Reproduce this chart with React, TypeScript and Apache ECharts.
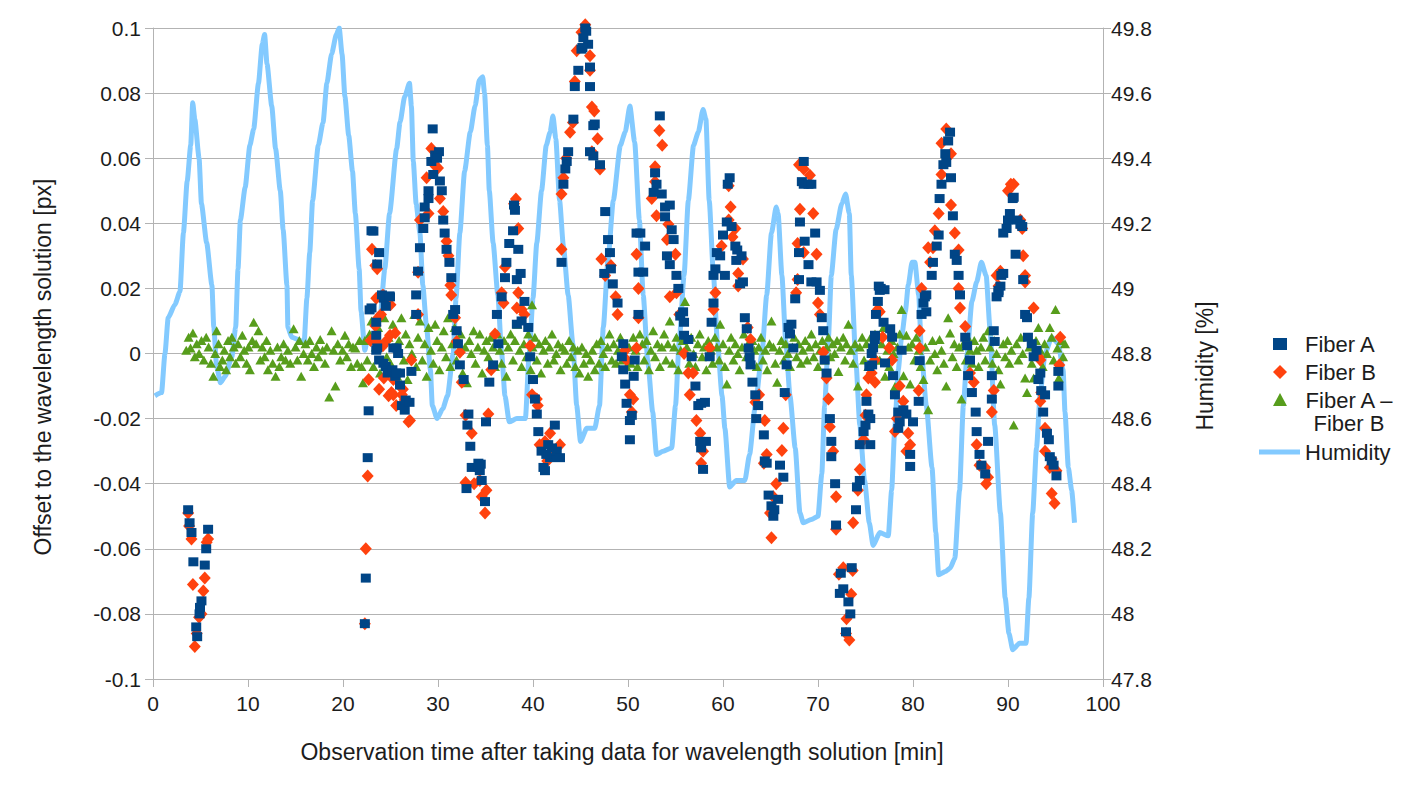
import React, { useEffect, useRef } from "react";
import * as echarts from "echarts";

// ---------- data ----------
const xTicks = [0, 10, 20, 30, 40, 50, 60, 70, 80, 90, 100];

const fiberA: number[][] = [
  [3.7,-0.048],[3.85,-0.052],[4.05,-0.055],[4.25,-0.064],[4.55,-0.084],[4.65,-0.087],[4.9,-0.080],[4.95,-0.078],[5.1,-0.076],[5.45,-0.065],[5.6,-0.060],[5.8,-0.054],
  [22.3,-0.083],[22.4,-0.069],[22.6,-0.032],[22.7,-0.0176],[23.0,0.0377],[23.2,0.0376],[22.8,0.0134],[23.0,0.014],[23.5,0.0096],[23.6,0.0275],[23.8,0.031],[24.1,0.018],[24.3,0.017],[24.5,0.0145],[24.9,0.0177],[23.5,0.0056],[23.6,0.0017],[23.5,0.001],[23.8,-0.002],[24.25,-0.003],[24.5,-0.004],[24.7,-0.006],[25.2,-0.005],[25.3,0.0017],[25.5,-0.007],[25.65,0.0017],[25.8,0.0],[25.6,-0.006],[26.0,-0.0097],[26.0,-0.006],[26.2,-0.016],[26.5,-0.0174],[26.6,-0.0143],[27.0,-0.015],[27.2,-0.0055],[24.95,0.0174],
  [27.7,0.012],[27.7,0.018],[27.9,0.0253],[28.1,0.0325],[28.45,0.0384],[28.6,0.0417],[28.6,0.045],[29.0,0.0476],[29.0,0.05],[29.3,0.059],[29.44,0.069],[29.7,0.061],[30.1,0.062],[30.2,0.053],[30.4,0.05],[30.55,0.041],[30.7,0.037],[30.9,0.032],[31.2,0.028],[31.4,0.0233],[31.6,0.012],[31.8,0.0135],[31.96,0.007],[32.1,0.003],[32.3,-0.0035],[32.7,-0.008],[33.2,-0.0186],[33.1,-0.022],[33.4,-0.0285],[33.55,-0.035],[33.0,-0.0415],[34.25,-0.0337],[34.4,-0.036],[34.6,-0.039],[34.95,-0.0455],[34.3,-0.035],[34.5,-0.034],[29.9,0.06],[29.5,0.055],[35.05,-0.021],
  [35.4,-0.0088],[35.8,-0.0035],[36.2,0.012],[36.35,0.003],[36.7,0.0174],[37.05,0.0233],[37.2,0.028],[37.5,0.0338],[38.0,0.0456],[37.9,0.0377],[38.45,0.032],[38.3,0.0227],[38.7,0.0246],[39.1,0.016],[38.3,0.009],[38.8,0.01],[39.5,0.008],[39.7,-0.001],[40.0,-0.008],[40.2,-0.014],[40.4,-0.0186],[38.1,0.044],
  [40.56,-0.024],[40.9,-0.03],[41.1,-0.035],[41.26,-0.036],[41.6,-0.028],[41.8,-0.032],[42.3,-0.022],[42.5,-0.03],[42.84,-0.032],[41.4,-0.031],[42.0,-0.029],
  [43.0,0.028],[43.2,0.052],[43.4,0.0567],[43.55,0.059],[43.7,0.062],[44.25,0.072],[44.4,0.082],[44.77,0.087],[45.1,0.0935],[45.3,0.097],[45.5,0.1],[45.8,0.095],[46.0,0.088],[46.0,0.082],[46.35,0.07],[46.5,0.0705],[46.0,0.062],[46.35,0.0607],[47.05,0.058],[45.2,0.094],[45.6,0.099],
  [47.6,0.0436],[47.9,0.035],[48.1,0.031],[47.5,0.0246],[48.2,0.026],[48.4,0.0214],[48.9,0.0155],[49.5,0.003],[49.35,-0.001],[49.5,-0.005],[49.7,-0.0094],[49.85,-0.0153],[50.2,-0.0206],[50.2,-0.0265],[50.9,0.037],[51.1,0.025],[50.7,-0.002],[50.6,-0.007],[50.4,-0.019],[51.3,0.037],[51.8,0.033],[51.6,0.025],[51.1,0.012],
  [53.35,0.073],[52.85,0.0555],[52.7,0.0495],[53.55,0.049],[53.9,0.045],[53.9,0.042],[54.4,0.0456],[54.1,0.03],[54.4,0.0273],[54.8,0.035],[55.1,0.024],[55.3,0.02],[55.8,0.0128],[55.5,0.0115],[55.9,0.0096],[55.9,0.0056],[56.35,0.0043],[56.7,-0.001],[57.1,-0.01],[57.4,-0.016],[57.7,-0.0153],[58.1,-0.015],[57.6,-0.027],[57.7,-0.029],[57.9,-0.0356],[58.2,-0.027],[53.0,0.052],[54.6,0.038],
  [58.8,0.0096],[58.6,-0.001],[59.0,0.0155],[59.0,0.024],[59.2,0.026],[59.35,0.031],[59.7,0.03],[60.0,0.0364],[60.2,0.024],[60.4,0.0404],[60.7,0.054],[60.9,0.039],[61.3,0.033],[61.4,0.0286],[61.5,0.0318],[61.95,0.03],[62.1,0.022],[61.8,0.0214],[62.3,0.011],[62.5,0.0076],[62.7,0.0017],[62.8,-0.001],[62.9,-0.0035],[63.1,-0.0088],[63.4,-0.0127],[63.7,-0.016],[63.5,-0.02],[64.3,-0.025],[64.4,-0.033],[64.6,-0.0337],[64.8,-0.0435],[65.1,-0.0468],[65.3,-0.05],[65.8,-0.0448],[66.0,-0.0343],[66.35,-0.038],[66.5,-0.012],[65.4,-0.048],[60.5,0.052],
  [66.9,0.008],[67.05,0.006],[66.7,-0.0035],[67.4,0.0017],[67.2,0.009],[67.6,0.0168],[68.0,0.0227],[68.0,0.031],[68.1,0.0404],[68.3,0.0528],[68.5,0.059],[68.5,0.052],[69.0,0.052],[69.3,0.052],[69.7,0.037],[68.6,0.0345],[69.0,0.0273],[69.3,0.022],[69.85,0.022],[70.2,0.0194],[70.4,0.011],[70.55,0.007],[70.7,-0.002],[70.9,-0.006],[71.25,-0.02],[71.4,-0.027],[71.4,-0.0317],[71.8,-0.04],[71.9,-0.0527],[72.4,-0.0675],[72.3,-0.0737],[72.66,-0.0723],[73.2,-0.0763],[73.55,-0.0658],[73.4,-0.08],[72.95,-0.0855],
  [74.0,-0.048],[74.1,-0.041],[74.4,-0.039],[74.4,-0.028],[74.8,-0.024],[75.0,-0.022],[75.1,-0.0147],[75.3,-0.0186],[75.4,-0.004],[75.65,0.0],[75.8,0.0017],[75.98,0.0043],[76.1,0.012],[76.3,0.016],[76.4,0.0207],[76.5,0.0194],[75.5,-0.02],[75.5,-0.028],
  [76.9,0.0096],[77.6,0.0076],[77.8,0.005],[76.0,0.0056],[75.7,-0.0035],[77.05,-0.0029],[77.9,-0.0068],[78.1,-0.0127],[78.45,-0.018],[78.6,-0.021],[78.98,-0.0173],[79.3,-0.0186],[78.45,-0.023],[79.7,-0.031],[79.7,-0.0347],[80.0,-0.021],[80.6,-0.0147],[78.8,0.001],[80.7,-0.0022],[80.9,0.012],[81.1,0.0155],[81.25,0.0174],[76.6,0.02],[77.0,0.0196],
  [81.4,0.0128],[81.4,0.018],[81.97,0.024],[82.1,0.028],[82.5,0.033],[82.7,0.0364],[82.8,0.0476],[83.0,0.052],[83.2,0.058],[83.5,0.0587],[83.4,0.0614],[83.7,0.0653],[83.9,0.068],[84.0,0.054],[84.2,0.0423],[84.4,0.0305],[84.6,0.0286],[84.8,0.024],[84.95,0.018],
  [85.5,0.005],[85.7,0.0024],[86.0,-0.002],[85.8,-0.0068],[86.2,-0.012],[86.6,-0.018],[86.7,-0.024],[87.0,-0.031],[87.2,-0.0343],[87.6,-0.037],[87.9,-0.027],[88.3,-0.014],[88.3,-0.0068],[88.6,0.0037],[88.5,0.007],[88.8,0.0174],[89.0,0.0187],[89.2,0.0207],[89.3,0.024],[89.5,0.0246],
  [89.0,0.0194],[89.5,0.037],[89.85,0.0384],[90.0,0.041],[90.2,0.043],[90.5,0.0476],[90.6,0.048],[91.0,0.041],[91.3,0.0397],[91.5,0.039],[90.8,0.0305],[91.6,0.0227],[91.8,0.012],[92.0,0.011],[92.1,0.005],[92.5,0.003],[92.7,-0.001],[93.0,0.001],[93.4,-0.006],[93.2,-0.008],[93.5,-0.0114],[93.7,-0.018],[93.9,-0.0127],[94.1,-0.0245],[94.3,-0.0265],[94.4,-0.0317],[94.6,-0.033],[94.8,-0.0343],[95.1,-0.0376],[95.3,-0.0055],[95.3,-0.01]
];

const fiberB: number[][] = [
  [3.7,-0.049],[3.8,-0.053],[4.05,-0.057],[4.2,-0.071],[4.4,-0.090],[4.6,-0.086],[4.85,-0.081],[5.1,-0.080],[5.3,-0.073],[5.45,-0.069],[5.65,-0.058],[5.8,-0.057],
  [22.3,-0.083],[22.4,-0.060],[22.6,-0.0376],[22.7,-0.008],[23.05,0.032],[23.6,0.026],[23.5,0.017],[24.2,0.018],[23.4,0.0085],[22.9,0.004],[23.5,0.0037],[23.7,0.011],[24.2,0.0024],[24.6,0.004],[24.0,0.012],[24.3,-0.0075],[23.8,-0.011],[24.8,-0.013],[25.1,-0.012],[25.3,-0.008],[25.6,-0.016],[26.2,-0.0127],[26.3,-0.011],[26.5,-0.0143],[26.9,-0.021],[27.05,-0.0206],[27.2,-0.002],[24.95,0.0056],[25.0,0.015],[25.3,-0.0127],[25.5,0.0063],[23.4,0.027],
  [27.9,0.012],[27.9,0.025],[28.1,0.041],[28.8,0.054],[29.0,0.043],[30.0,0.057],[30.2,0.0476],[30.55,0.0436],[30.9,0.0345],[31.1,0.03],[31.3,0.021],[31.4,0.018],[31.8,0.011],[31.96,0.0037],[32.3,0.0004],[32.5,-0.0088],[32.9,-0.019],[33.55,-0.0245],[32.9,-0.0396],[34.4,-0.039],[35.1,-0.042],[34.95,-0.049],[35.3,-0.0186],[29.3,0.063],[29.6,0.058],[34.6,-0.044],[33.8,-0.04],
  [38.0,0.046],[38.2,0.0475],[38.45,0.0384],[37.05,0.0266],[36.7,0.0187],[36.9,0.0155],[38.45,0.0187],[38.3,0.014],[38.8,0.0135],[39.1,0.012],[39.7,0.0024],[39.9,-0.0127],[40.4,-0.014],[35.6,-0.005],[36.0,0.006],
  [40.7,-0.028],[41.26,-0.027],[41.8,-0.0245],[42.84,-0.028],[40.5,-0.016],[41.5,-0.033],[42.3,-0.031],
  [43.0,0.049],[43.0,0.032],[43.2,0.054],[43.9,0.068],[44.4,0.0836],[44.6,0.093],[45.1,0.0987],[45.5,0.101],[46.0,0.0915],[46.0,0.087],[46.2,0.0757],[46.45,0.0745],[46.8,0.066],[47.05,0.0567],[46.2,0.062],[43.5,0.06],[44.2,0.071],
  [47.2,0.029],[47.6,0.024],[48.2,0.027],[48.7,0.0174],[48.9,0.012],[49.7,0.001],[49.85,-0.002],[50.2,-0.0127],[50.9,0.0305],[51.1,0.02],[51.1,0.011],[50.9,0.0017],[50.55,-0.014],[50.4,-0.018],
  [53.3,0.0685],[52.85,0.0574],[52.85,0.0528],[52.5,0.0476],[53.0,0.0423],[54.25,0.0397],[54.1,0.035],[55.0,0.0305],[54.4,0.0174],[55.1,0.0187],[55.9,0.0],[56.35,-0.006],[56.5,-0.0127],[56.85,-0.006],[57.2,-0.0206],[57.6,-0.0245],[57.9,-0.03],[57.7,-0.0337],[53.6,0.064],[55.4,0.012],
  [60.6,0.0515],[60.8,0.045],[60.6,0.041],[59.85,0.033],[61.0,0.0358],[61.3,0.0384],[62.1,0.029],[61.6,0.0246],[61.6,0.0207],[59.2,0.0187],[59.0,0.0135],[58.6,0.0017],[62.6,0.008],[62.9,0.0043],[63.8,-0.0127],[63.4,-0.015],[64.4,-0.0206],[64.6,-0.031],[64.3,-0.0337],[64.95,-0.049],[65.1,-0.0566],[65.6,-0.04],[66.2,-0.0298],[66.35,-0.023],[66.6,-0.0127],[65.3,-0.044],
  [68.0,0.058],[68.5,0.0567],[69.15,0.0548],[68.1,0.0443],[69.5,0.043],[67.85,0.0338],[68.5,0.031],[69.85,0.0305],[67.85,0.0227],[67.7,0.0187],[70.0,0.0155],[70.2,0.012],[70.55,0.0004],[70.9,-0.0075],[71.1,-0.014],[71.25,-0.0225],[71.6,-0.03],[71.9,-0.044],[71.9,-0.054],[72.2,-0.0678],[72.66,-0.0658],[73.0,-0.0815],[73.3,-0.088],[72.95,-0.086],[73.65,-0.0667],[73.5,-0.074],
  [73.7,-0.052],[74.2,-0.042],[74.4,-0.0356],[74.8,-0.0265],[75.0,-0.019],[75.1,-0.0127],[75.3,-0.0075],[75.65,-0.006],[75.98,-0.002],[76.3,0.0135],
  [76.5,0.0128],[76.8,0.005],[77.5,0.0017],[77.8,-0.002],[76.0,-0.0088],[78.6,-0.01],[78.98,-0.0147],[78.3,-0.02],[78.1,-0.024],[79.5,-0.0245],[79.7,-0.028],[79.3,-0.03],[80.6,-0.0114],[80.7,0.0017],[80.7,0.007],[80.9,0.02],
  [81.6,0.0325],[81.8,0.028],[82.1,0.0325],[82.3,0.0377],[82.7,0.043],[83.0,0.055],[83.0,0.0646],[83.5,0.069],[84.0,0.0614],[84.0,0.0456],[84.4,0.037],[84.8,0.0318],[84.95,0.014],[84.8,0.02],
  [85.5,0.0083],[86.0,-0.006],[86.4,-0.0088],[86.7,-0.028],[87.0,-0.0343],[87.6,-0.035],[87.7,-0.04],[87.9,-0.038],[88.3,-0.018],[88.5,-0.0114],[89.0,0.0207],[88.8,0.024],[89.2,0.0253],
  [90.0,0.05],[90.3,0.052],[90.6,0.052],[91.3,0.041],[91.5,0.0384],[91.6,0.03],[91.8,0.024],[91.8,0.022],[92.7,0.014],[93.2,-0.001],[93.4,-0.002],[93.5,-0.012],[93.4,-0.0147],[93.9,-0.023],[93.9,-0.03],[94.6,-0.0324],[94.4,-0.035],[95.1,-0.036],[94.6,-0.043],[94.9,-0.046],[95.5,0.005],[95.4,-0.0035]
];

const fiberDiff: number[][] = [
  [3.5,0.001],[3.75,0.005],[3.95,0.0017],[4.2,0.0063],[4.4,-0.001],[4.6,0.003],[4.85,0.0],[5.1,0.004],[5.35,-0.002],[5.6,0.005],[5.85,0.002],[6.1,-0.003],[6.35,-0.007],[6.55,0.0],[6.7,0.007],[6.9,0.003],[7.05,-0.004],[7.3,-0.002],[7.5,0.001],[7.7,-0.005],[7.9,0.004],[8.1,-0.001],[8.3,0.005],[8.5,0.002],[8.7,-0.003],[8.95,0.003],[9.2,-0.001],[9.4,0.0056],[9.6,0.001],[9.85,-0.003],
  [10.05,0.002],[10.2,-0.005],[10.45,0.004],[10.6,0.0096],[10.85,0.003],[11.1,0.007],[11.3,-0.002],[11.5,0.002],[11.75,-0.001],[11.95,0.004],[12.1,-0.005],[12.35,0.001],[12.6,-0.003],[12.9,-0.007],[13.1,0.002],[13.3,-0.004],[13.5,-0.001],[13.75,0.003],[13.95,-0.002],[14.2,0.001],[14.45,-0.003],[14.8,0.0076],[15.0,0.002],[15.2,-0.002],[15.4,0.004],[15.6,-0.007],[15.85,0.0],[16.05,0.003],[16.3,-0.002],[16.5,0.004],[16.7,0.0],[16.95,-0.004],[17.2,0.002],[17.4,-0.001],[17.6,0.0043],[17.85,0.001],[18.1,-0.003],[18.3,0.002],[18.55,-0.0134],[18.8,0.007],[19.0,0.001],[19.2,-0.01],[19.45,0.003],[19.7,-0.002],[19.95,0.001],[20.2,0.0056],[20.4,-0.001],[20.6,0.003],[20.85,-0.004],[21.05,0.002],[21.3,0.0017],[21.5,-0.003],[21.75,0.004],[21.95,-0.004],[22.1,-0.009],
  [22.3,0.004],[22.55,-0.002],[22.8,0.006],[23.0,0.01],[23.2,-0.004],[23.45,0.002],[23.7,0.008],[23.9,-0.006],[24.1,0.003],[24.35,0.011],[24.6,-0.001],[24.8,0.005],[25.0,-0.003],[25.25,0.009],[25.5,0.002],[25.7,-0.007],[25.9,0.004],[26.15,0.011],[26.4,-0.002],[26.6,0.006],[26.8,-0.008],[27.0,0.003],[27.25,0.0],[27.5,0.012],[27.7,-0.004],[27.9,0.005],[28.1,0.01],[28.35,-0.002],[28.6,0.003],[28.8,-0.007],[29.0,0.008],[29.25,0.001],[29.5,-0.003],[29.7,0.009],[29.9,0.004],[30.15,-0.005],[30.4,0.002],[30.6,0.007],[30.85,-0.001],[31.05,0.011],[31.3,-0.004],[31.5,0.003],[31.75,0.008],[31.95,-0.002],[32.2,0.001],[32.4,0.006],[32.6,-0.006],[32.85,0.002],[33.05,-0.009],[33.3,0.004],[33.5,0.0],[33.75,0.007],[33.95,-0.003],[34.2,0.002],[34.4,0.006],[34.65,-0.006],[34.85,0.001],[35.1,0.004],
  [35.3,-0.001],[35.55,0.005],[35.8,0.002],[36.0,-0.004],[36.25,0.006],[36.5,0.001],[36.7,-0.003],[36.95,0.004],[37.2,-0.007],[37.4,0.002],[37.65,0.006],[37.9,-0.002],[38.1,0.004],[38.35,0.009],[38.6,0.001],[38.8,-0.004],[39.05,0.003],[39.3,-0.001],[39.5,0.006],[39.75,-0.005],[39.9,0.015],[39.95,0.002],[40.2,0.005],[40.4,-0.002],[40.65,0.003],[40.85,-0.006],[41.1,0.001],[41.3,0.004],[41.55,-0.003],[41.75,0.002],[42.0,0.006],[42.2,-0.002],[42.45,0.0],[42.65,0.003],[42.9,-0.005],[43.1,0.002],[43.35,0.001],[43.55,-0.003],[43.8,0.004],[44.0,-0.001],[44.25,0.002],[44.45,-0.004],[44.7,0.001],[44.9,-0.006],[45.15,0.002],[45.35,-0.003],[45.6,0.0],[45.8,-0.007],[46.05,-0.002],[46.25,0.001],[46.5,-0.005],[46.7,0.003],[46.95,-0.003],[47.15,0.004],[47.4,0.0],[47.6,-0.004],[47.85,0.002],[48.05,0.006],[48.3,-0.002],[48.5,0.003],[48.75,-0.003],[48.95,0.001],[49.2,0.005],[49.4,-0.002],[49.65,0.002],[49.85,-0.004],
  [50.1,0.002],[50.3,-0.003],[50.55,0.005],[50.8,0.001],[51.0,-0.004],[51.25,0.006],[51.5,0.003],[51.7,-0.002],[51.95,0.004],[52.2,-0.005],[52.4,0.001],[52.65,0.007],[52.85,-0.001],[53.1,0.003],[53.35,-0.004],[53.55,0.002],[53.8,0.006],[54.0,-0.002],[54.2,0.003],[54.4,0.01],[54.65,-0.003],[54.85,0.002],[55.1,0.005],[55.3,-0.005],[55.55,0.001],[55.75,0.004],[56.0,0.016],[56.2,0.002],[56.45,-0.003],[56.65,0.005],[56.9,0.0],[57.1,-0.004],[57.35,0.003],[57.55,0.006],[57.8,-0.001],[58.0,0.002],[58.25,-0.005],[58.45,0.004],[58.7,0.001],[58.9,-0.003],[59.15,0.005],[59.35,0.002],[59.6,-0.002],[59.7,0.009],[60.0,0.003],[60.2,-0.004],[60.4,-0.0094],[60.65,0.001],[60.85,0.005],[61.1,-0.002],[61.3,0.003],[61.55,0.0],[61.75,-0.005],[62.0,0.002],[62.2,0.006],[62.45,-0.001],[62.65,0.003],[62.9,-0.003],[63.1,0.004],[63.3,0.001],[63.55,-0.004],[63.75,0.002],[64.0,0.005],[64.2,-0.002],[64.45,0.001],[64.65,-0.005],[64.9,0.003],[65.1,0.01],[65.3,0.002],[65.5,-0.003],[65.7,-0.0088],[65.95,0.001],[66.15,0.004],[66.4,-0.002],[66.6,0.003],[66.85,0.0],[67.05,-0.004],[67.3,0.002],[67.5,0.005],[67.75,-0.001],[67.95,0.003],[68.2,-0.003],[68.4,0.001],[68.65,0.004],[68.85,-0.002],[69.1,0.002],[69.3,0.006],[69.55,-0.001],[69.75,0.003],[70.0,-0.004],[70.2,0.001],[70.45,0.004],[70.65,-0.002],[70.9,0.002],[71.1,0.005],[71.3,-0.001],[71.55,0.003],[71.75,0.0],[72.0,0.004],[72.15,-0.0055],[72.4,0.002],[72.65,0.005],[72.85,-0.002],[73.0,0.003],[73.2,0.009],[73.45,0.001],[73.7,-0.003],[73.9,0.003],[74.2,-0.01],[74.4,0.002],[74.65,0.005],[74.85,-0.002],
  [75.1,0.003],[75.3,-0.004],[75.55,0.005],[75.75,0.0],[76.0,0.006],[76.25,-0.002],[76.5,-0.002],[76.7,0.003],[76.9,0.008],[77.05,-0.007],[77.3,0.001],[77.5,-0.004],[77.75,0.004],[77.95,0.0],[78.1,-0.0101],[78.35,0.002],[78.6,0.006],[78.8,0.0135],[79.0,-0.0068],[79.3,0.0056],[79.5,0.002],[79.7,-0.0094],[79.9,0.003],[80.15,-0.002],[80.35,0.005],[80.6,0.001],[80.8,-0.004],[81.1,-0.008],[81.3,0.002],[81.6,-0.0173],[81.8,-0.002],[82.05,0.004],[82.3,0.0],[82.55,-0.005],[82.8,0.0043],[83.0,0.001],[83.25,-0.003],[83.5,-0.01],[83.7,0.011],[83.9,0.0063],[84.15,-0.001],[84.35,0.003],[84.6,-0.004],[84.85,0.002],[85.1,-0.014],[85.3,0.003],[85.55,-0.002],[85.75,0.005],[86.0,0.001],[86.2,-0.003],[86.45,0.004],[86.7,0.001],[86.9,-0.004],[87.15,0.002],[87.4,0.005],[87.6,-0.002],[87.9,0.007],[88.1,0.002],[88.35,-0.003],[88.55,0.004],[88.8,0.0],[89.0,-0.005],[89.2,-0.0094],[89.5,0.003],[89.7,-0.001],[89.95,0.004],[90.15,-0.003],[90.35,0.001],[90.6,-0.022],[90.9,0.003],[91.1,-0.002],[91.35,0.005],[91.55,0.0],[91.8,-0.0075],[92.0,-0.012],[92.25,0.002],[92.5,-0.003],[92.7,-0.0075],[92.95,0.004],[93.2,0.008],[93.4,0.001],[93.65,-0.004],[93.85,0.003],[94.1,0.0],[94.4,0.008],[94.6,0.005],[94.8,-0.002],[95.0,0.0135],[95.2,0.0017],[95.35,-0.0075],[95.6,0.004],[95.8,-0.001],[96.0,0.003]
];

const humidity: number[][] = [
  [0.2,48.67],[0.9,48.68],[1.26,48.80],[1.6,48.91],[2.3,48.95],[2.84,48.99],[3.2,49.17],[3.6,49.33],[3.97,49.44],[4.18,49.57],[4.4,49.52],[4.85,49.40],[5.1,49.26],[5.65,49.14],[6.2,49.01],[6.4,48.88],[6.7,48.76],[7.1,48.71],[7.6,48.73],[8.3,48.79],[8.7,48.88],[8.95,49.06],[9.2,49.21],[9.7,49.31],[10.2,49.44],[10.6,49.49],[11.1,49.63],[11.5,49.75],[11.75,49.78],[12.0,49.69],[12.5,49.56],[12.9,49.43],[13.4,49.30],[13.7,49.18],[14.1,49.01],[14.2,48.88],[14.6,48.85],[15.5,48.84],[15.9,48.83],[16.2,48.97],[16.5,49.11],[16.8,49.27],[17.4,49.44],[17.9,49.51],[18.3,49.63],[18.8,49.72],[19.3,49.78],[19.6,49.80],[19.9,49.72],[20.2,49.59],[20.6,49.47],[21.0,49.36],[21.3,49.23],[21.7,49.06],[21.9,48.93],[22.3,48.81],[22.6,48.85],[23.3,48.85],[23.9,48.91],[24.4,49.06],[24.9,49.23],[25.65,49.43],[26.0,49.51],[26.5,49.59],[27.0,49.63],[27.2,49.56],[27.4,49.39],[27.7,49.26],[28.1,49.17],[28.4,49.01],[28.8,48.88],[29.2,48.75],[29.4,48.64],[29.9,48.60],[30.5,48.63],[31.0,48.67],[31.6,48.80],[31.9,48.97],[32.3,49.17],[32.8,49.36],[33.4,49.48],[33.9,49.56],[34.35,49.64],[34.7,49.65],[34.9,49.60],[35.2,49.44],[35.4,49.30],[35.8,49.14],[36.3,48.98],[36.7,48.80],[37.05,48.67],[37.5,48.59],[38.3,48.60],[39.2,48.60],[39.6,48.80],[40.0,48.97],[40.4,49.14],[40.9,49.30],[41.4,49.44],[41.8,49.48],[42.1,49.53],[42.4,49.46],[42.8,49.27],[43.2,49.13],[43.7,48.98],[44.2,48.83],[44.6,48.64],[45.0,48.53],[45.65,48.57],[46.5,48.57],[47.0,48.64],[47.4,48.88],[47.9,49.09],[48.45,49.27],[49.2,49.44],[49.7,49.48],[50.2,49.56],[50.7,49.45],[51.2,49.21],[51.6,48.98],[52.1,48.77],[52.6,48.62],[53.0,48.49],[53.7,48.50],[54.6,48.51],[55.0,48.64],[55.4,48.84],[55.9,49.04],[56.35,49.27],[56.9,49.44],[57.4,49.48],[57.9,49.55],[58.2,49.52],[58.55,49.27],[59.0,49.04],[59.4,48.84],[59.9,48.67],[60.2,48.57],[60.7,48.39],[61.4,48.41],[62.3,48.41],[62.8,48.49],[63.4,48.64],[64.1,48.80],[64.6,48.98],[65.1,49.17],[65.6,49.25],[65.8,49.23],[66.2,49.04],[66.6,48.84],[67.05,48.67],[67.6,48.51],[68.1,48.31],[68.45,48.28],[69.3,48.29],[70.0,48.30],[70.4,48.43],[70.7,48.64],[71.1,48.85],[71.4,49.04],[71.9,49.18],[72.5,49.26],[72.9,49.29],[73.3,49.23],[73.5,49.04],[74.0,48.77],[74.4,48.58],[74.9,48.41],[75.4,48.28],[75.8,48.21],[76.5,48.25],[77.4,48.24],[77.75,48.38],[78.1,48.58],[78.45,48.75],[78.8,48.85],[79.2,48.93],[79.5,49.01],[79.9,49.08],[80.2,49.08],[80.6,48.98],[80.9,48.80],[81.4,48.64],[82.0,48.45],[82.4,48.25],[82.7,48.12],[83.4,48.13],[83.9,48.14],[84.4,48.17],[84.9,48.38],[85.3,48.64],[85.7,48.80],[86.2,48.96],[86.7,49.02],[87.2,49.08],[87.7,49.04],[88.1,48.88],[88.6,48.58],[89.2,48.31],[89.7,48.05],[90.1,47.94],[90.5,47.89],[91.2,47.91],[91.9,47.91],[92.2,48.05],[92.6,48.31],[93.0,48.51],[93.4,48.68],[93.9,48.80],[94.6,48.85],[95.3,48.83],[95.8,48.75],[96.0,48.62],[96.35,48.45],[96.7,48.38],[97.0,48.28]
];

// ---------- styling ----------
const FONT = "Liberation Sans, Arial, sans-serif";
const TXT = "#1c1c1c";
const GRID = "#b3b3b3";
const C_A = "#004586";
const C_B = "#ff420e";
const C_D = "#579d1c";
const C_H = "#83caff";
const TICK_FS = 21;
const LEG_FS = 22;
const TITLE_FS = 23;

export default function App() {
  const ref = useRef<HTMLDivElement>(null);

  useEffect(() => {
    if (!ref.current) return;
    const chart = echarts.init(ref.current, undefined, { renderer: "svg" });
    const legendX = 1280;
    const legFont = `${LEG_FS}px ${FONT}`;
    const titleFont = `${TITLE_FS}px ${FONT}`;
    chart.setOption({
      animation: false,
      backgroundColor: "#ffffff",
      textStyle: { fontFamily: FONT },
      grid: { left: 153, right: 310, top: 28, bottom: 116, containLabel: false },
      xAxis: {
        type: "value",
        min: xTicks[0],
        max: xTicks[xTicks.length - 1],
        interval: 10,
        axisLine: { show: true, onZero: false, lineStyle: { color: GRID, width: 1 } },
        axisTick: { show: true, length: 8, lineStyle: { color: GRID } },
        splitLine: { show: false },
        axisLabel: { color: TXT, fontSize: TICK_FS, fontFamily: FONT, margin: 14 },
      },
      yAxis: [
        {
          type: "value",
          min: -0.1,
          max: 0.1,
          interval: 0.02,
          position: "left",
          axisLine: { show: true, onZero: false, lineStyle: { color: GRID, width: 1 } },
          axisTick: { show: true, length: 8, lineStyle: { color: GRID } },
          splitLine: { show: true, lineStyle: { color: GRID, width: 1 } },
          axisLabel: {
            color: TXT, fontSize: TICK_FS, fontFamily: FONT, margin: 12,
            formatter: (v: number) => String(+v.toFixed(2)),
          },
        },
        {
          type: "value",
          min: 47.8,
          max: 49.8,
          interval: 0.2,
          position: "right",
          axisLine: { show: true, onZero: false, lineStyle: { color: GRID, width: 1 } },
          axisTick: { show: true, length: 8, lineStyle: { color: GRID } },
          splitLine: { show: false },
          axisLabel: {
            color: TXT, fontSize: TICK_FS, fontFamily: FONT, margin: 8,
            formatter: (v: number) => String(+v.toFixed(1)),
          },
        },
      ],
      series: [
        {
          name: "Humidity",
          type: "line",
          yAxisIndex: 1,
          data: humidity,
          showSymbol: false,
          symbol: "none",
          smooth: 0.2,
          smoothMonotone: "x",
          lineStyle: { color: C_H, width: 5 },
          itemStyle: { color: C_H },
          z: 1,
        },
        {
          name: "Fiber A – Fiber B",
          type: "scatter",
          data: fiberDiff,
          symbol: "triangle",
          symbolSize: [10, 9],
          itemStyle: { color: C_D, opacity: 1 },
          clip: false,
          z: 2,
        },
        {
          name: "Fiber B",
          type: "scatter",
          data: fiberB,
          symbol: "diamond",
          symbolSize: [12, 13],
          itemStyle: { color: C_B, opacity: 1 },
          clip: false,
          z: 3,
        },
        {
          name: "Fiber A",
          type: "scatter",
          data: fiberA,
          symbol: "rect",
          symbolSize: [10, 9],
          itemStyle: { color: C_A, opacity: 1 },
          clip: false,
          z: 4,
        },
      ],
      graphic: [
        // axis titles
        {
          type: "text", x: 43, y: 367, rotation: Math.PI / 2,
          style: { text: "Offset to the wavelength solution [px]", fill: TXT, font: titleFont, align: "center", verticalAlign: "middle" },
        },
        {
          type: "text", x: 1205, y: 366, rotation: Math.PI / 2,
          style: { text: "Humidity [%]", fill: TXT, font: titleFont, align: "center", verticalAlign: "middle" },
        },
        {
          type: "text", x: 622, y: 752,
          style: { text: "Observation time after taking data for wavelength solution [min]", fill: TXT, font: titleFont, align: "center", verticalAlign: "middle" },
        },
        // legend
        { type: "rect", shape: { x: legendX - 7, y: 338, width: 14, height: 12 }, style: { fill: C_A } },
        { type: "text", x: 1305, y: 344, style: { text: "Fiber A", fill: TXT, font: legFont, align: "left", verticalAlign: "middle" } },
        { type: "polygon", shape: { points: [[legendX, 365], [legendX + 7, 372], [legendX, 379], [legendX - 7, 372]] }, style: { fill: C_B } },
        { type: "text", x: 1305, y: 372, style: { text: "Fiber B", fill: TXT, font: legFont, align: "left", verticalAlign: "middle" } },
        { type: "polygon", shape: { points: [[legendX, 393], [legendX + 7, 406], [legendX - 7, 406]] }, style: { fill: C_D } },
        { type: "text", x: 1349, y: 400, style: { text: "Fiber A –", fill: TXT, font: legFont, align: "center", verticalAlign: "middle" } },
        { type: "text", x: 1349, y: 423, style: { text: "Fiber B", fill: TXT, font: legFont, align: "center", verticalAlign: "middle" } },
        { type: "line", shape: { x1: 1259, y1: 452, x2: 1300, y2: 452 }, style: { stroke: C_H, lineWidth: 5 } },
        { type: "text", x: 1305, y: 452, style: { text: "Humidity", fill: TXT, font: legFont, align: "left", verticalAlign: "middle" } },
      ],
    });
    return () => chart.dispose();
  }, []);

  return (
    <div
      ref={ref}
      style={{ position: "fixed", left: 0, top: 0, width: 1413, height: 795, background: "#fff" }}
    />
  );
}
